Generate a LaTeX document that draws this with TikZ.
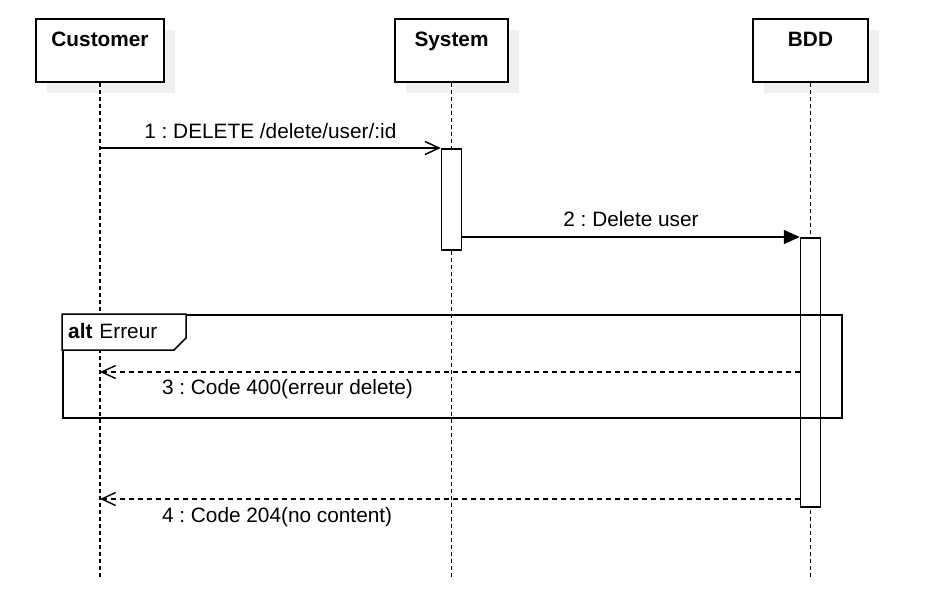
\documentclass[tikz,border=0pt]{standalone}
\usepackage{fontspec}
\setmainfont{Liberation Sans}
\usetikzlibrary{arrows.meta,shadows}
\frenchspacing

\begin{document}
\begin{tikzpicture}[x=1pt, y=-1pt, font=\fontsize{20.8}{25}\selectfont]
		\tikzstyle {actor} = [draw, fill=white, line width=1.5pt, minimum height=63pt, inner sep=0pt, drop shadow={shadow xshift=11pt, shadow yshift=-11pt, fill=black!6, opacity=1}]
		\tikzstyle {lifeline} = [line width=1.4pt, dash pattern=on 4pt off 3pt]
		\tikzstyle {activation} = [draw, fill=white, line width=1.5pt, minimum width=20pt, inner sep=0pt, anchor=north]
		\tikzstyle {call} = [line width=1.5pt, -{Straight Barb[length=14pt, width=13pt]}]
		\tikzstyle {sync} = [line width=1.5pt, -{Triangle[length=16pt, width=14pt]}]
		\tikzstyle {reply} = [line width=1.4pt, dash pattern=on 5pt off 4pt, -{Straight Barb[length=14pt, width=13pt]}]

		\useasboundingbox (0,0) rectangle (932,614);

		% lifeline heads
		\node[actor, minimum width=128pt, label={[anchor=base, yshift=-28pt]north:\bfseries Customer}] (customer) at (100,50.5) {};
		\node[actor, minimum width=113pt, label={[anchor=base, yshift=-28pt]north:\bfseries System}] (system) at (451.5,50.5) {};
		\node[actor, minimum width=115pt, label={[anchor=base, yshift=-28pt]north:\bfseries BDD}] (bdd) at (810.5,50.5) {};

		\coordinate (bottom) at (0,578);
		\coordinate (r3) at (0,372);
		\coordinate (r4) at (0,499);

		\draw[lifeline] (customer.south) -- (customer |- bottom);
		\draw[lifeline] (system.south) -- (system |- bottom);
		\draw[lifeline] (bdd.south) -- (bdd |- bottom);

		\node[activation, minimum height=101pt] (sysact) at (451.5,148) {};
		\node[activation, minimum height=269pt] (bddact) at (810.5,237) {};

		% alt fragment
		\node[draw, line width=1.5pt, minimum width=779pt, minimum height=103pt, inner sep=0pt, anchor=north west] (alt) at (62,314) {};
		\draw[line width=1.5pt, fill=white] (alt.north west) -- ++(124,0) -- ++(0,24) -- ++(-12,12) -- ++(-112,0) -- cycle;
		\node[anchor=base west, inner sep=0pt] (alttitle) at (68,338) {\textbf{alt}\hspace{7pt}Erreur};

		% messages
		\draw[call] (customer |- sysact.north) -- (sysact.north west)
			node[midway, anchor=base, yshift=10pt] {1 : DELETE /delete/user/:id};
		\draw[sync] (sysact.east |- bddact.north) -- (bddact.north west)
			node[midway, anchor=base, yshift=11pt] {2 : Delete user};
		\draw[reply] (bddact.west |- r3) -- (customer |- r3)
			node[pos=1, anchor=base west, xshift=58pt, yshift=-22pt] {3 : Code 400(erreur delete)};
		\draw[reply] (bddact.west |- r4) -- (customer |- r4)
			node[pos=1, anchor=base west, xshift=58pt, yshift=-23pt] {4 : Code 204(no content)};
	\end{tikzpicture}
\end{document}
